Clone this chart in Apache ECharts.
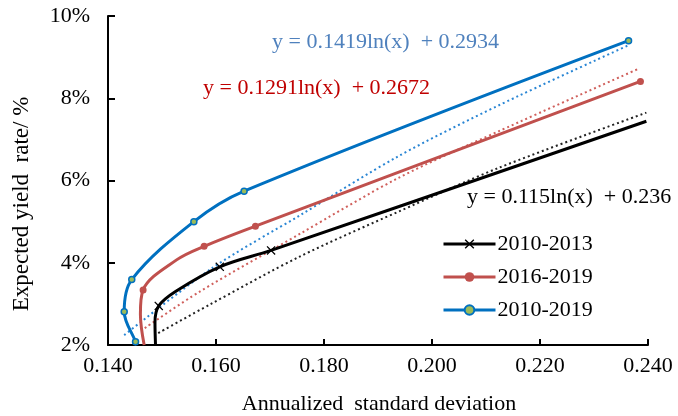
<!DOCTYPE html>
<html>
<head>
<meta charset="utf-8">
<script src="https://cdn.jsdelivr.net/npm/echarts@6/dist/echarts.min.js"></script>
<style>
  html, body { margin: 0; padding: 0; background: #fff; }
  #main { width: 678px; height: 416px; }
</style>
</head>
<body>
<div id="main"></div>
<script>
// efficient frontiers: [std dev, expected yield %, marker?]
var frontier1013 = [[0.1488, 2.00, 0], [0.1487, 2.55, 0], [0.1494, 2.95, 1], [0.1525, 3.30, 0], [0.1607, 3.90, 1], [0.1702, 4.30, 1], [0.2397, 7.44, 0]]
var frontier1619 = [[0.1467, 2.00, 0], [0.1460, 2.75, 0], [0.1465, 3.34, 1], [0.1527, 4.07, 0], [0.1578, 4.40, 1], [0.1673, 4.89, 1], [0.2386, 8.41, 1]]
var frontier1019 = [[0.1453, 2.00, 0], [0.1451, 2.08, 1], [0.1430, 2.81, 1], [0.1444, 3.59, 1], [0.1559, 5.00, 1], [0.1652, 5.74, 1], [0.2364, 9.40, 1]]

// log trend lines
var trend1013 = [[0.1493, 2.29], [0.1588, 2.98], [0.1755, 4.15], [0.1939, 5.25], [0.2124, 6.31], [0.2397, 7.65]]
var trend1619 = [[0.1468, 2.41], [0.1570, 3.30], [0.1755, 4.70], [0.1939, 6.07], [0.2124, 7.20], [0.2383, 8.72]]
var trend1019 = [[0.1430, 2.24], [0.1594, 3.88], [0.1755, 5.15], [0.1939, 6.60], [0.2124, 7.83], [0.2364, 9.29]]

var seriesNames = ['2010-2013', '2016-2019', '2010-2019']
var equations = ['y = 0.115ln(x)  + 0.236', 'y = 0.1291ln(x)  + 0.2672', 'y = 0.1419ln(x)  + 0.2934']
var xTicks = [0.14, 0.24, 0.02]
var yTicks = [2, 10, 2]

var serif = '"Liberation Serif", "Times New Roman", serif'
var crossPath = 'path://M0,1 L1,0 L5,4 L9,0 L10,1 L6,5 L10,9 L9,10 L5,6 L1,10 L0,9 L4,5 Z'

function points(arr) {
  return arr.map(function (p) {
    var item = { value: [p[0], p[1]] }
    if (!p[2]) item.symbol = 'none'
    return item
  })
}

function trend(arr, color) {
  return {
    type: 'line',
    data: arr,
    smooth: 0.3,
    showSymbol: false,
    silent: true,
    z: 1,
    lineStyle: { color: color, width: 2, type: [2, 3] }
  }
}

var chart = echarts.init(document.getElementById('main'), null, { renderer: 'canvas' })

var option = {
  backgroundColor: '#fff',
  animation: false,
  grid: { left: 108, right: 30, top: 16, bottom: 71 },
  xAxis: {
    type: 'value',
    min: xTicks[0], max: xTicks[1], interval: xTicks[2],
    axisLine: { lineStyle: { color: '#000', width: 2 } },
    axisTick: { inside: true, length: 6, lineStyle: { color: '#000', width: 2 } },
    splitLine: { show: false },
    axisLabel: {
      margin: 10, color: '#000', fontFamily: serif, fontSize: 22,
      formatter: function (v) { return v.toFixed(3) }
    }
  },
  yAxis: {
    type: 'value',
    min: yTicks[0], max: yTicks[1], interval: yTicks[2],
    axisLine: { show: true, lineStyle: { color: '#000', width: 2 } },
    axisTick: { show: true, inside: true, length: 7, lineStyle: { color: '#000', width: 2 } },
    splitLine: { show: false },
    axisLabel: {
      margin: 18, color: '#000', fontFamily: serif, fontSize: 22,
      formatter: function (v) { return v + '%' }
    }
  },
  legend: {
    orient: 'vertical',
    left: 437, top: 228,
    itemWidth: 52, itemHeight: 12, itemGap: 11,
    data: seriesNames,
    lineStyle: { width: 3 },
    textStyle: { color: '#000', fontFamily: serif, fontSize: 22, lineHeight: 22, padding: [0, 0, 0, -3] }
  },
  series: [
    trend(trend1013, '#222'),
    trend(trend1619, '#d0605c'),
    trend(trend1019, '#2a86d4'),
    {
      name: seriesNames[0], type: 'line', data: points(frontier1013), smooth: 0.35, z: 3,
      symbol: crossPath, symbolSize: 9, itemStyle: { color: '#000' },
      lineStyle: { color: '#000', width: 3 }
    },
    {
      name: seriesNames[1], type: 'line', data: points(frontier1619), smooth: 0.35, z: 3,
      symbol: 'circle', symbolSize: 7, itemStyle: { color: '#c0504d' },
      lineStyle: { color: '#c0504d', width: 3 }
    },
    {
      name: seriesNames[2], type: 'line', data: points(frontier1019), smooth: 0.35, z: 3,
      symbol: 'circle', symbolSize: 6,
      itemStyle: { color: '#9bbb59', borderColor: '#0070c0', borderWidth: 1.5 },
      lineStyle: { color: '#0070c0', width: 3 }
    }
  ],
  graphic: [
    { type: 'text', left: 272, top: 31, style: { text: equations[2], fill: '#4f81bd', font: '22px ' + serif } },
    { type: 'text', left: 203, top: 77, style: { text: equations[1], fill: '#c00000', font: '22px ' + serif } },
    { type: 'text', left: 467, top: 186, style: { text: equations[0], fill: '#000', font: '22px ' + serif } },
    {
      type: 'text', x: 379, y: 404,
      style: { text: 'Annualized  standard deviation', fill: '#000', font: '22px ' + serif, textAlign: 'center', textVerticalAlign: 'middle' }
    },
    {
      type: 'text', x: 22, y: 204, rotation: Math.PI / 2,
      style: { text: 'Expected yield  rate/ %', fill: '#000', font: '23px ' + serif, textAlign: 'center', textVerticalAlign: 'middle' }
    }
  ]
}

chart.setOption(option)
</script>
</body>
</html>
